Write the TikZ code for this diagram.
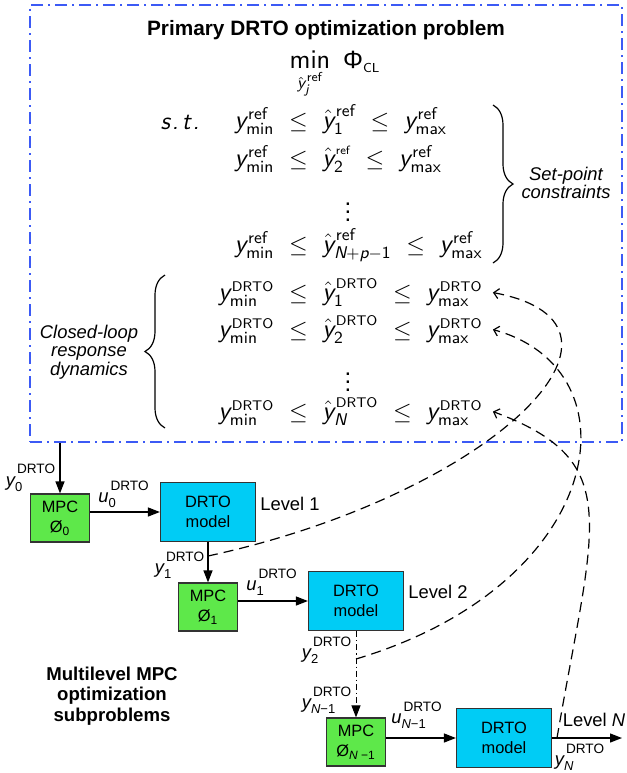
\documentclass[tikz,border=0pt]{standalone}
\usepackage{fontspec}
\usepackage{amsmath}
\setmainfont{Liberation Sans}
\usetikzlibrary{arrows.meta,decorations.pathreplacing}

\definecolor{mpcgreen}{RGB}{94,232,74}
\definecolor{drtocyan}{RGB}{0,204,245}
\definecolor{boxblue}{RGB}{60,90,245}

\DeclareMathSizes{13}{13}{8.5}{6.5}
\DeclareMathSizes{13.5}{13.5}{8.5}{6.5}
\DeclareMathSizes{9.2}{9.2}{6.5}{5}
\DeclareMathSizes{8.2}{8.2}{6}{5}

% math text in the sans of the equations
\newcommand{\mt}[1]{\text{\sffamily #1}}
\newcommand{\mi}[1]{\text{\sffamily\itshape #1}}
\newcommand{\sref}{\mkern2mu\mt{ref}}
\newcommand{\sdrto}{\mkern2mu\text{\sffamily\fontsize{7}{7}\selectfont DRTO}}
% one constraint row, lower bound hanging left of the node
\newcommand{\crow}[3]{$\llap{$#1$}\mkern6mu\le\mkern6mu#2\mkern6mu\le\mkern6mu#3$}
% signal labels of the block diagram
\newcommand{\lsig}[2]{$\textit{#1}^{\raisebox{2.5pt}{\fontsize{6.8}{7}\selectfont\kern1pt DRTO}}_{\text{#2}}$}

\begin{document}
\begin{tikzpicture}[x=0.5pt, y=-0.5pt,
	primbox/.style={ draw=boxblue, line width=0.75pt, dash pattern=on 6pt off 2.5pt on 1pt off 2.5pt, inner sep=0pt },
	mpcbox/.style={ draw=black!80, fill=mpcgreen, line width=0.6pt, minimum width=29.5pt, minimum height=24pt, inner sep=0pt, align=center, font=\fontsize{8.2}{10}\selectfont },
	drtobox/.style={ draw=black!80, fill=drtocyan, line width=0.6pt, minimum width=47.5pt, minimum height=29.5pt, inner sep=0pt, align=center, font=\fontsize{8.2}{10}\selectfont },
	sarrow/.style={ -{Triangle[length=6pt,width=4.5pt]}, line width=0.65pt },
	dotline/.style={ line width=0.5pt, dash pattern=on 3pt off 1.5pt on 0.6pt off 1.5pt },
	fback/.style={ -{Straight Barb[length=2.5pt,width=5pt]}, line width=0.6pt, dash pattern=on 5pt off 3pt },
	eqrow/.style={ anchor=base west, inner xsep=5pt, inner ysep=0pt, font=\fontsize{13}{15}\selectfont },
	note/.style={ align=center, font=\fontsize{9.2}{9.3}\selectfont\itshape },
	sig/.style={ inner sep=0pt, font=\fontsize{9.2}{11}\selectfont },
	lvl/.style={ inner sep=0pt, font=\fontsize{9.2}{11}\selectfont },
	hbrace/.style={ decorate, decoration={brace, amplitude=10pt}, line width=0.6pt }
]
\useasboundingbox (0,0) rectangle (627,773);

% primary DRTO problem
\node[primbox, minimum width=296pt, minimum height=218.5pt] at (326,223.5) (prim) {};
\node[font=\fontsize{10.4}{12}\selectfont\bfseries] at (326,30) (title) {Primary DRTO optimization problem};
\node[anchor=base, font=\fontsize{13.5}{15}\selectfont] at (335,68) (obj) {$\mathop{\mt{min}}\limits_{\hat{\mi{y}}^{\sref}_{\mi{j}}}\;\text{\fontsize{12.5}{13}\selectfont Φ}_{\text{\sffamily\fontsize{6.5}{7}\selectfont CL}}$};
\node[font=\fontsize{12.5}{14}\selectfont\sffamily\itshape] at (180,122) (st) {s\kern1pt.\kern1.5pt t\kern1pt.};

\node[eqrow] at (264,128) (sp1) {\crow{\mi{y}^{\sref}_{\mt{min}}}{\hat{\mi{y}}^{\sref}_{\mt{1}}}{\mi{y}^{\sref}_{\mt{max}}}};
\node[eqrow] at (264,166) (sp2) {\crow{\mi{y}^{\sref}_{\mt{min}}}{\hat{\mi{y}}^{\mkern2mu\text{\sffamily\fontsize{6}{6}\selectfont ref}}_{\mt{2}}}{\mi{y}^{\sref}_{\mt{max}}}};
\node[font=\fontsize{12}{14}\selectfont] at (348,206) (spdots) {$\vdots$};
\node[eqrow] at (264,252) (spN) {\crow{\mi{y}^{\sref}_{\mt{min}}}{\hat{\mi{y}}^{\sref}_{\mi{N}{+}\mi{p}{-}\mt{1}}}{\mi{y}^{\sref}_{\mt{max}}}};

\node[eqrow] at (264,300) (dr1) {\crow{\mi{y}^{\sdrto}_{\mt{min}}}{\hat{\mi{y}}^{\sdrto}_{\mt{1}}}{\mi{y}^{\sdrto}_{\mt{max}}}};
\node[eqrow] at (264,337) (dr2) {\crow{\mi{y}^{\sdrto}_{\mt{min}}}{\hat{\mi{y}}^{\sdrto}_{\mt{2}}}{\mi{y}^{\sdrto}_{\mt{max}}}};
\node[font=\fontsize{12}{14}\selectfont] at (348,376) (drdots) {$\vdots$};
\node[eqrow] at (264,419) (drN) {\crow{\mi{y}^{\sdrto}_{\mt{min}}}{\hat{\mi{y}}^{\sdrto}_{\mi{N}}}{\mi{y}^{\sdrto}_{\mt{max}}}};

\draw[hbrace] (493,105) -- (493,263);
\node[note] at (566,183) (spc) {Set-point\\constraints};
\draw[hbrace] (165,428) -- (165,275);
\node[note] at (89,352) (clr) {Closed-loop\\response\\dynamics};

% multilevel MPC subproblems
\node[mpcbox] at (60,518) (mpc0) {MPC\\$\text{Ø}_{\text{0}}$};
\node[drtobox] at (208,512) (drto1) {DRTO\\model};
\node[mpcbox] at (208,607) (mpc1) {MPC\\$\text{Ø}_{\text{1}}$};
\node[drtobox] at (356,601) (drto2) {DRTO\\model};
\node[mpcbox] at (356,742) (mpcN) {MPC\\$\text{Ø}_{\text{\textit{N} −1}}$};
\node[drtobox] at (504,738) (drtoN) {DRTO\\model};

\node[lvl] at (290,504) (lev1) {Level 1};
\node[lvl] at (438,592) (lev2) {Level 2};
\node[lvl] at (594,720) (levN) {Level \textit{N}};
\node[font=\fontsize{9.3}{10.2}\selectfont\bfseries, align=center] at (112,696) (multi) {Multilevel MPC\\optimization\\subproblems};

\coordinate (j1) at (208,556);
\coordinate (j2) at (356,659);
\coordinate (jN) at (557,738);
\coordinate (outN) at (622,738);

\draw[sarrow] (prim.south -| mpc0.north) -- (mpc0.north);
\foreach \m/\d in {mpc0/drto1, mpc1/drto2, mpcN/drtoN} \draw[sarrow] (\m.east |- \d.west) -- (\d.west);
\draw[sarrow] (drto1.south) -- (drto1.south |- mpc1.north);
\draw[sarrow, dotline] (drto2.south) -- (drto2.south |- mpcN.north);
\draw[sarrow] (drtoN.east) -- (outN);

\node[sig] at (31,478) (ly0) {\lsig{y}{0}};
\node[sig] at (124,494) (lu0) {\lsig{u}{0}};
\node[sig] at (180,565) (ly1) {\lsig{y}{1}};
\node[sig] at (272,582) (lu1) {\lsig{u}{1}};
\node[sig] at (327,650) (ly2) {\lsig{y}{2}};
\node[sig] at (327,700) (lyN1) {\lsig{y}{\textit{N}−1}};
\node[sig] at (417,715) (luN1) {\lsig{u}{\textit{N}−1}};
\node[sig] at (580,757) (lyN) {\lsig{y}{\textit{N}}};

% closed-loop responses fed back to the primary problem
\draw[fback] (j1) .. controls (490,495) and (665,325) .. (dr1.east);
\draw[fback] (j2) .. controls (607,584) and (640,370) .. (dr2.east);
\draw[fback] (jN) .. controls (594,522) and (626,461) .. (drN.east);

\end{tikzpicture}
\end{document}
